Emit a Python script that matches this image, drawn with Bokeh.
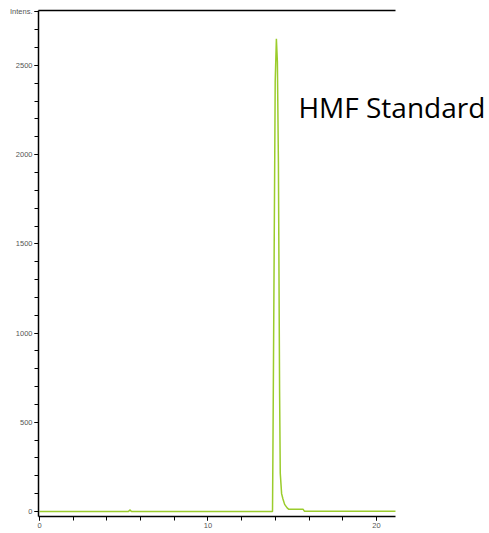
from bokeh.plotting import figure
from bokeh.models import FixedTicker, LinearAxis, Label, Range1d
from bokeh.embed import file_html
from bokeh.resources import INLINE

# Chromatogram trace: retention time (min) vs intensity
time_min = [0.0, 5.28, 5.36, 5.46, 13.83, 13.85, 13.89, 13.99, 14.06, 14.12,
            14.18, 14.25, 14.29, 14.37, 14.45, 14.55, 14.70, 14.80, 15.65,
            15.72, 21.13]
intensity = [0, 0, 9, 0, 0, 270, 860, 2410, 2650, 2520,
             1960, 680, 215, 100, 70, 40, 20, 12, 12,
             2, 1]

y_major = [0, 500, 1000, 1500, 2000, 2500, 2800]
y_minor = list(range(0, 2801, 100))
x_major = [0, 10, 20]
x_minor = list(range(0, 21, 2))

x_start, x_stop = -0.06, 21.13   # extent of the drawn time axis
y_start, y_stop = -28, 2808

p = figure(width=489, height=533, output_backend="svg", toolbar_location=None,
           x_range=Range1d(x_start, 26.71), y_range=Range1d(y_start, y_stop),
           min_border_left=38, min_border_right=0, min_border_top=10,
           min_border_bottom=17, x_axis_location=None, y_axis_location=None)
p.outline_line_color = None
p.xgrid.visible = False
p.ygrid.visible = False
p.background_fill_color = "white"
p.border_fill_color = "white"

tick_font = "Liberation Sans"

yaxis = LinearAxis(ticker=FixedTicker(ticks=y_major, minor_ticks=y_minor))
yaxis.major_label_overrides = {2800: "Intens."}
xaxis = LinearAxis(ticker=FixedTicker(ticks=x_major, minor_ticks=x_minor),
                   bounds=(x_start, x_stop))
for ax in (xaxis, yaxis):
    ax.axis_line_color = "black"
    ax.axis_line_width = 1.5
    ax.major_tick_line_color = "black"
    ax.minor_tick_line_color = "black"
    ax.major_tick_in = 0
    ax.major_tick_out = 4
    ax.minor_tick_in = 0
    ax.minor_tick_out = 4
    ax.major_label_standoff = 2
    ax.major_label_text_font = tick_font
    ax.major_label_text_font_size = "7.5px"
    ax.major_label_text_color = "#555555"
p.add_layout(yaxis, "left")
p.add_layout(xaxis, "below")

# plain line along the top of the plot area
top = LinearAxis(ticker=FixedTicker(ticks=[]), axis_line_width=1.5,
                 bounds=(x_start, x_stop), major_label_text_font_size="0px")
p.add_layout(top, "above")

p.line(time_min, intensity, line_color="#9bcc2c", line_width=1.5)

p.add_layout(Label(x=15.37, y=2265, text="HMF Standard", text_font="Open Sans",
                   text_font_size="28px", text_color="black",
                   text_baseline="alphabetic"))

open("out.html", "w").write(file_html(p, INLINE))
